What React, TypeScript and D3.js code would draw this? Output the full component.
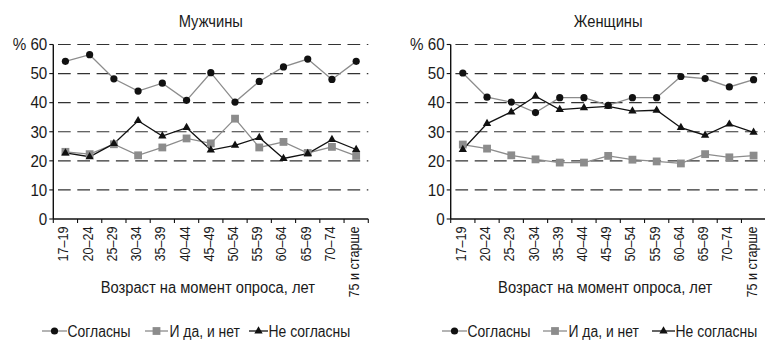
import React from "react";
import * as d3 from "d3";

const categories = ["17–19","20–24","25–29","30–34","35–39","40–44","45–49","50–54","55–59","60–64","65–69","70–74","75 и старше"];
const yTicks = [0,10,20,30,40,50,60];

const menAgree = [54.2,56.5,48.2,44,46.7,40.8,50.3,40.2,47.3,52.3,55,48,54.2];
const menBoth = [23.1,22.3,25.7,21.9,24.6,27.7,26,34.5,24.6,26.5,22.7,24.8,21.7];
const menDisagree = [22.7,21.4,25.9,33.8,28.5,31.4,23.7,25.3,28,20.8,22.5,27.3,23.9];

const womenAgree = [50.2,41.9,40.2,36.6,41.7,41.7,39.1,41.7,41.7,49,48.3,45.4,47.9];
const womenBoth = [25.6,24.2,21.9,20.5,19.4,19.4,21.7,20.4,19.8,19.1,22.3,21.2,21.8];
const womenDisagree = [23.9,32.8,36.8,42.2,37.6,38.2,38.7,37.1,37.4,31.4,28.8,32.6,29.8];

const seriesNames = ["Согласны","И да, и нет","Не согласны"];

const FONT = "'Liberation Sans', Arial, sans-serif";

function SText({ x, y, sx, rot, size, anchor, children }: { x: number; y: number; sx: number; rot?: number; size: number; anchor?: string; children: React.ReactNode }) {
  return (
    <text
      transform={`translate(${x},${y})${rot ? ` rotate(${rot})` : ""} scale(${sx},1)`}
      fontSize={size}
      textAnchor={anchor || "start"}
      fill="#1a1a1a"
    >
      {children}
    </text>
  );
}

function Marker({ kind, x, y }: { kind: number; x: number; y: number }) {
  if (kind === 0) return <circle cx={x} cy={y} r={3.6} fill="#111" />;
  if (kind === 1) return <rect x={x - 3.9} y={y - 3.9} width={7.8} height={7.8} fill="#8c8c8c" />;
  const tri = d3.symbol().type(d3.symbolTriangle).size(30)();
  return <path d={tri || ""} transform={`translate(${x},${y})`} fill="#111" />;
}

const lineColors = ["#8c8c8c", "#8c8c8c", "#111"];

function Panel({ ox, title, series, legend }: { ox: number; title: string; series: number[][]; legend: number[][] }) {
  const x0 = ox;
  const bw = 24.23;
  const x = d3.scaleBand<string>().domain(categories).range([x0, x0 + bw * categories.length]).padding(0);
  const y = d3.scaleLinear().domain([0, 60]).range([219, 44.5]);
  const cx = (i: number) => (x(categories[i]) as number) + x.bandwidth() / 2;
  const line = d3.line<number>().x((_, i) => cx(i)).y((d) => y(d));
  const xEnd = x0 + bw * categories.length;
  const dash = [12.7, 6.6];
  return (
    <g fontFamily={FONT}>
      <SText x={(x0 + xEnd) / 2} y={26.5} sx={0.92} size={16} anchor="middle">{title}</SText>
      {yTicks.filter((t) => t > 0).map((t) => (
        <line key={t} x1={x0} x2={xEnd} y1={y(t)} y2={y(t)} stroke="#333" strokeWidth={1.1}
          strokeDasharray={dash.join(",")} strokeDashoffset={dash[0] + dash[1] - 4.7} />
      ))}
      {yTicks.map((t) => (
        <g key={"yt" + t}>
          <line x1={x0 - 4} x2={x0} y1={y(t)} y2={y(t)} stroke="#111" strokeWidth={1.1} />
          <SText x={x0 - 6} y={y(t) + 5.8} sx={0.95} size={16} anchor="end">{t === 60 ? "% 60" : String(t)}</SText>
        </g>
      ))}
      <line x1={x0} x2={x0} y1={y(60)} y2={y(0)} stroke="#111" strokeWidth={1.4} />
      <line x1={x0} x2={xEnd} y1={y(0)} y2={y(0)} stroke="#111" strokeWidth={1.4} />
      {d3.range(categories.length + 1).map((i) => (
        <line key={"xt" + i} x1={x0 + i * bw} x2={x0 + i * bw} y1={y(0)} y2={y(0) + 4} stroke="#111" strokeWidth={1.1} />
      ))}
      {categories.map((c, i) => (
        <SText key={c} x={cx(i) + 3} y={y(0) + 7.5} rot={-90} sx={0.9} size={14} anchor="end">{c}</SText>
      ))}
      <SText x={(x0 + xEnd) / 2 - 3} y={293} sx={0.92} size={16} anchor="middle">Возраст на момент опроса, лет</SText>
      {series.map((s, k) => (
        <path key={"l" + k} d={line(s) || ""} fill="none" stroke={lineColors[k]} strokeWidth={1.3} />
      ))}
      {series.map((s, k) =>
        s.map((v, i) => <Marker key={k + "-" + i} kind={k} x={cx(i)} y={y(v)} />)
      )}
      {seriesNames.map((n, k) => (
        <g key={"lg" + k}>
          <line x1={legend[k][0]} x2={legend[k][1]} y1={331} y2={331} stroke={lineColors[k]} strokeWidth={1.3} />
          <Marker kind={k} x={(legend[k][0] + legend[k][1]) / 2} y={331} />
          <SText x={legend[k][2]} y={337} sx={0.87} size={16}>{n}</SText>
        </g>
      ))}
    </g>
  );
}

export default function App() {
  return (
    <svg width={765} height={341} style={{ display: "block", position: "absolute", left: 0, top: 0, background: "#fff" }}>
      <rect width={765} height={341} fill="#fff" />
      <Panel ox={53.3} title="Мужчины" series={[menAgree, menBoth, menDisagree]}
        legend={[[42, 67, 67.5], [145, 168, 169.5], [249, 268, 268.5]]} />
      <Panel ox={450.7} title="Женщины" series={[womenAgree, womenBoth, womenDisagree]}
        legend={[[442, 467, 467.5], [543, 567, 568.5], [652, 675, 675.5]]} />
    </svg>
  );
}
